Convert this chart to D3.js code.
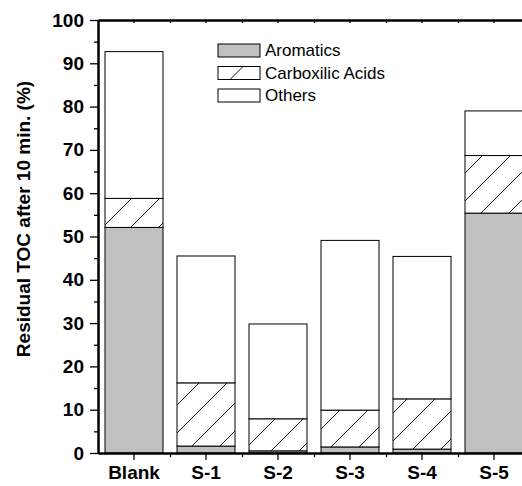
<!DOCTYPE html>
<html>
<head>
<meta charset="utf-8">
<script src="https://cdn.jsdelivr.net/npm/d3@7"></script>
<style>
    body { margin: 0; background: #fff; }
    svg { display: block; font-family: "Liberation Sans", Arial, sans-serif; }
</style>
</head>
<body>
<svg id="chart"></svg>
<script>
const categories = ["Blank", "S-1", "S-2", "S-3", "S-4", "S-5"];
const aromatics = [52.1, 1.6, 0.5, 1.4, 0.9, 55.4];
const carboxylic = [6.7, 14.6, 7.4, 8.5, 11.6, 13.3];
const others = [33.9, 29.3, 21.9, 39.2, 32.9, 10.3];
const seriesNames = ["Aromatics", "Carboxilic Acids", "Others"];
const yTicks = [0, 10, 20, 30, 40, 50, 60, 70, 80, 90, 100];

const dims = {
    width: 522, height: 486,
    left: 98, right: 530, top: 20, bottom: 453
};

const rows = categories.map(function(c, i) {
    return { cat: c, aromatics: aromatics[i], carboxylic: carboxylic[i], others: others[i] };
});
const keys = ["aromatics", "carboxylic", "others"];
const fills = { aromatics: "#c0c0c0", carboxylic: "url(#hatch)", others: "#fff" };

const svg = d3.select("#chart")
    .attr("width", dims.width)
    .attr("height", dims.height);

const defs = svg.append("defs");
const pat = defs.append("pattern")
    .attr("id", "hatch")
    .attr("patternUnits", "userSpaceOnUse")
    .attr("x", 22)
    .attr("width", 28)
    .attr("height", 28);
pat.append("rect").attr("width", 28).attr("height", 28).attr("fill", "#fff");
pat.append("path")
    .attr("d", "M-7,7 L7,-7 M0,28 L28,0 M21,35 L35,21")
    .attr("stroke", "#000")
    .attr("stroke-width", 0.9);

const x = d3.scaleBand()
    .domain(categories)
    .range([dims.left, dims.right])
    .paddingInner(14 / 72)
    .paddingOuter(7 / 72);

const y = d3.scaleLinear()
    .domain([0, 100])
    .range([dims.bottom, dims.top]);

const stacked = d3.stack().keys(keys)(rows);

svg.append("g")
    .selectAll("g")
    .data(stacked)
    .join("g")
    .attr("fill", function(d) { return fills[d.key]; })
    .selectAll("rect")
    .data(function(d) { return d; })
    .join("rect")
    .attr("x", function(d) { return x(d.data.cat); })
    .attr("y", function(d) { return y(d[1]); })
    .attr("width", x.bandwidth())
    .attr("height", function(d) { return y(d[0]) - y(d[1]); })
    .attr("stroke", "#000")
    .attr("stroke-width", 1);

// minor ticks: y every 5, x at band edges
const yMinor = d3.range(5, 100, 10);
const xEdges = d3.range(1, categories.length).map(function(i) {
    return x(categories[i]) - x.step() * x.paddingInner() / 2;
});
const xEdge = d3.scaleLinear().domain([dims.left, dims.right]).range([dims.left, dims.right]);

svg.append("g")
    .attr("transform", "translate(" + dims.left + ",0)")
    .call(d3.axisLeft(y).tickValues(yTicks).tickSize(8).tickPadding(6).tickSizeOuter(0));
svg.append("g")
    .attr("transform", "translate(" + dims.left + ",0)")
    .call(d3.axisLeft(y).tickValues(yMinor).tickSize(4).tickFormat("").tickSizeOuter(0));

svg.append("g")
    .attr("transform", "translate(0," + dims.bottom + ")")
    .call(d3.axisBottom(x).tickSize(7).tickPadding(6).tickSizeOuter(0));
svg.append("g")
    .attr("transform", "translate(0," + dims.bottom + ")")
    .call(d3.axisBottom(xEdge).tickValues(xEdges).tickSize(4).tickFormat("").tickSizeOuter(0));

// top frame with inward ticks
svg.append("g")
    .attr("transform", "translate(0," + dims.top + ")")
    .call(d3.axisBottom(x).tickSize(3).tickFormat("").tickSizeOuter(0));
svg.append("g")
    .attr("transform", "translate(0," + dims.top + ")")
    .call(d3.axisBottom(xEdge).tickValues(xEdges).tickSize(3).tickFormat("").tickSizeOuter(0));

svg.selectAll(".domain").attr("stroke", "#000").attr("stroke-width", 2);
svg.selectAll(".tick line").attr("stroke", "#000").attr("stroke-width", 1.3);
svg.selectAll(".tick text")
    .attr("font-family", "Liberation Sans, Arial, sans-serif")
    .attr("font-weight", "bold")
    .attr("font-size", 19)
    .attr("fill", "#000");

svg.append("text")
    .attr("transform", "translate(30,219) rotate(-90)")
    .attr("text-anchor", "middle")
    .attr("font-weight", "bold")
    .attr("font-size", 19)
    .text("Residual TOC after 10 min. (%)");

// legend
const legend = svg.append("g")
    .selectAll("g")
    .data(keys)
    .join("g")
    .attr("transform", function(d, i) { return "translate(218," + (44 + i * 22.5) + ")"; });

legend.append("rect")
    .attr("width", 42)
    .attr("height", 13)
    .attr("fill", function(d) { return d === "carboxylic" ? "#fff" : fills[d]; })
    .attr("stroke", "#000")
    .attr("stroke-width", 1);

legend.filter(function(d) { return d === "carboxylic"; })
    .append("line")
    .attr("x1", 12).attr("y1", 13)
    .attr("x2", 25).attr("y2", 0)
    .attr("stroke", "#000")
    .attr("stroke-width", 0.9);

legend.append("text")
    .attr("x", 47)
    .attr("y", 12)
    .attr("font-size", 17)
    .text(function(d, i) { return seriesNames[i]; });
</script>
</body>
</html>
